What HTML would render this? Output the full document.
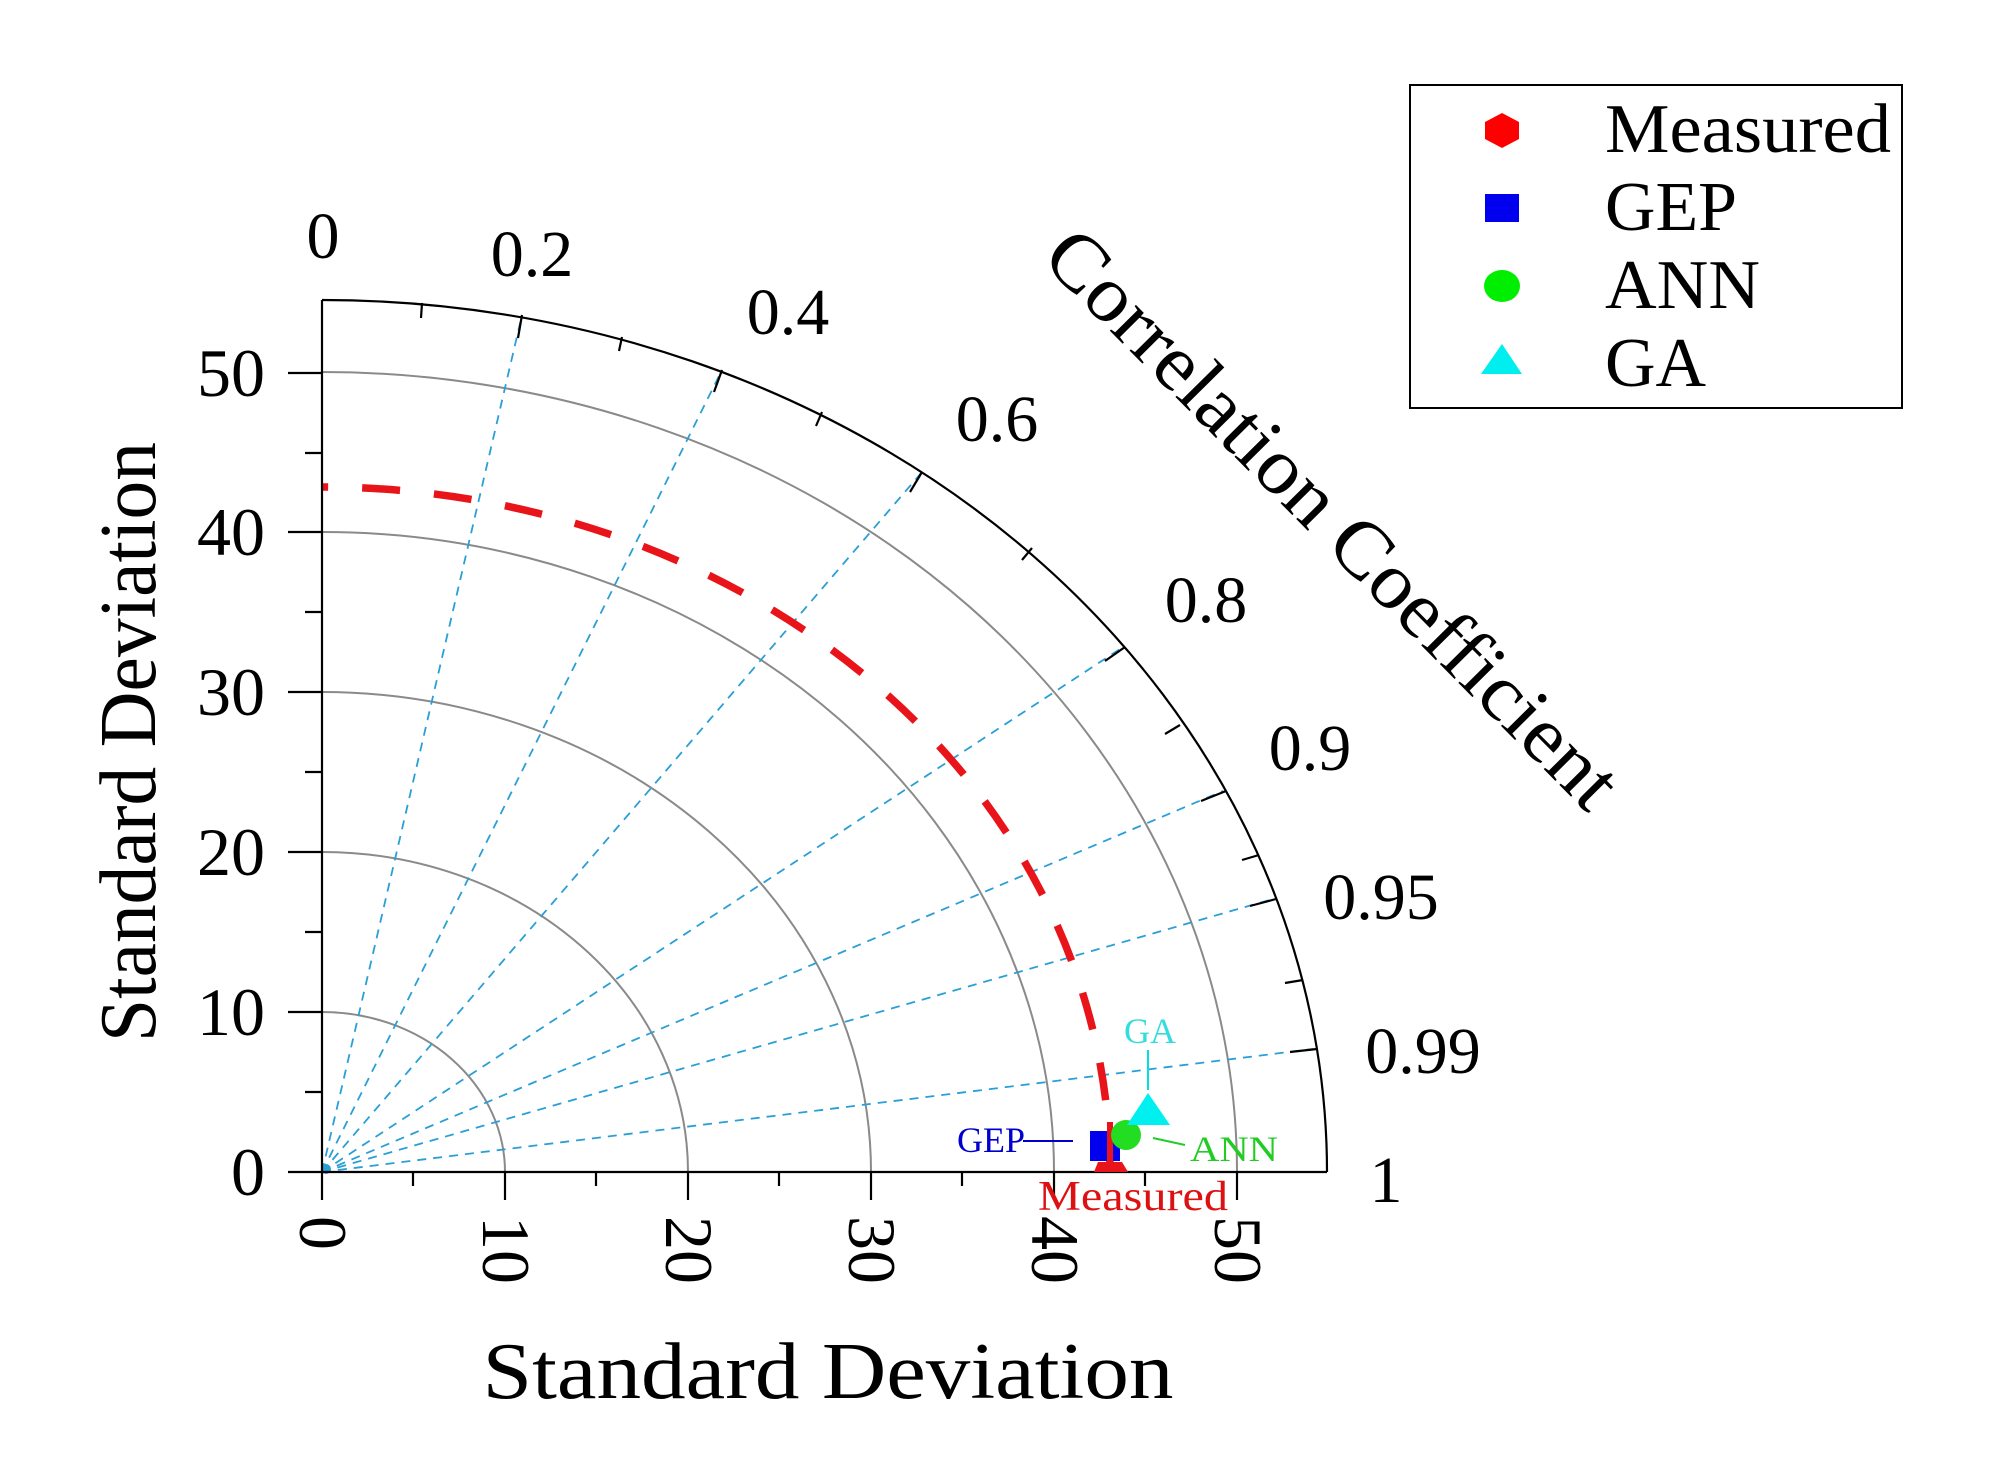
<!DOCTYPE html>
<html><head><meta charset="utf-8"><style>
html,body{margin:0;padding:0;background:#fff;}
svg{display:block;}
text{font-family:"Liberation Serif",serif;}
</style></head><body>
<svg width="2008" height="1483" viewBox="0 0 2008 1483" xmlns="http://www.w3.org/2000/svg">
<g fill="none" stroke="#8a8a8a" stroke-width="2">
<path d="M505,1172 A183 160 0 0 0 322,1012"/>
<path d="M688,1172 A366 320 0 0 0 322,852"/>
<path d="M871,1172 A549 480 0 0 0 322,692"/>
<path d="M1054,1172 A732 640 0 0 0 322,532"/>
<path d="M1237,1172 A915 800 0 0 0 322,372"/>
</g>
<g stroke="#2a9fd6" stroke-width="1.8" stroke-dasharray="9,7" fill="none">
<line x1="322" y1="1172" x2="522" y2="315"/>
<line x1="322" y1="1172" x2="722" y2="370"/>
<line x1="322" y1="1172" x2="922" y2="472"/>
<line x1="322" y1="1172" x2="1123" y2="647"/>
<line x1="322" y1="1172" x2="1223" y2="791"/>
<line x1="322" y1="1172" x2="1273" y2="899"/>
<line x1="322" y1="1172" x2="1313" y2="1049"/>
</g>
<circle cx="326" cy="1169" r="5" fill="#2a9fd6"/>
<path d="M1110,1172 A788 685 0 0 0 322,487" fill="none" stroke="#e8141a" stroke-width="7.5" stroke-dasharray="38,34"/>
<g stroke="#000" stroke-width="2.2" fill="none">
<path d="M1327,1172 A1005 872 0 0 0 322,300"/>
<line x1="322" y1="300" x2="322" y2="1200"/>
<line x1="288" y1="1172" x2="1327" y2="1172"/>
<line x1="288" y1="1012" x2="322" y2="1012"/><line x1="288" y1="852" x2="322" y2="852"/>
<line x1="288" y1="692" x2="322" y2="692"/><line x1="288" y1="532" x2="322" y2="532"/>
<line x1="288" y1="373" x2="322" y2="373"/>
<line x1="305" y1="1092" x2="322" y2="1092"/><line x1="305" y1="932" x2="322" y2="932"/>
<line x1="305" y1="772" x2="322" y2="772"/><line x1="305" y1="612" x2="322" y2="612"/>
<line x1="305" y1="453" x2="322" y2="453"/>
<line x1="505" y1="1172" x2="505" y2="1200"/><line x1="688" y1="1172" x2="688" y2="1200"/>
<line x1="871" y1="1172" x2="871" y2="1200"/><line x1="1054" y1="1172" x2="1054" y2="1200"/>
<line x1="1237" y1="1172" x2="1237" y2="1200"/>
<line x1="413" y1="1172" x2="413" y2="1186"/><line x1="596" y1="1172" x2="596" y2="1186"/>
<line x1="779" y1="1172" x2="779" y2="1186"/><line x1="962" y1="1172" x2="962" y2="1186"/>
<line x1="1145" y1="1172" x2="1145" y2="1186"/>
<line x1="522" y1="315" x2="518" y2="338"/>
<line x1="722" y1="370" x2="714" y2="392"/>
<line x1="922" y1="472" x2="910" y2="492"/>
<line x1="1125" y1="647" x2="1105" y2="661"/>
<line x1="1226" y1="791" x2="1201" y2="801"/>
<line x1="1276" y1="899" x2="1250" y2="906"/>
<line x1="1317" y1="1049" x2="1290" y2="1052"/>
<line x1="422" y1="303" x2="421" y2="318"/>
<line x1="622" y1="337" x2="619" y2="351"/>
<line x1="822" y1="412" x2="816" y2="426"/>
<line x1="1032" y1="548" x2="1022" y2="560"/>
<line x1="1180" y1="725" x2="1165" y2="734"/>
<line x1="1259" y1="855" x2="1242" y2="860"/>
<line x1="1303" y1="980" x2="1285" y2="983"/>
</g>
<g font-size="68" text-anchor="end" fill="#000">
<text x="265" y="1195">0</text><text x="265" y="1035">10</text><text x="265" y="875">20</text>
<text x="265" y="715">30</text><text x="265" y="555">40</text><text x="265" y="396">50</text>
</g>
<g font-size="68" fill="#000">
<text transform="translate(300,1216) rotate(90)">0</text>
<text transform="translate(483,1216) rotate(90)">10</text>
<text transform="translate(666,1216) rotate(90)">20</text>
<text transform="translate(849,1216) rotate(90)">30</text>
<text transform="translate(1032,1216) rotate(90)">40</text>
<text transform="translate(1215,1216) rotate(90)">50</text>
</g>
<g font-size="66" text-anchor="middle" fill="#000">
<text x="323" y="258">0</text><text x="532" y="276">0.2</text><text x="788" y="334">0.4</text>
<text x="997" y="441">0.6</text><text x="1206" y="622">0.8</text><text x="1310" y="770">0.9</text>
<text x="1381" y="919">0.95</text><text x="1423" y="1073">0.99</text><text x="1386" y="1202">1</text>
</g>
<text x="828" y="1398" font-size="80" text-anchor="middle" textLength="691" lengthAdjust="spacingAndGlyphs">Standard Deviation</text>
<text transform="translate(155,742) rotate(-90)" font-size="80" text-anchor="middle" textLength="600" lengthAdjust="spacingAndGlyphs">Standard Deviation</text>
<text transform="translate(1314,537) rotate(45.3)" font-size="80" text-anchor="middle" textLength="780" lengthAdjust="spacingAndGlyphs">Correlation Coefficient</text>
<rect x="1090" y="1131" width="30" height="30" fill="#0000ee"/>
<line x1="1110" y1="1122" x2="1110" y2="1165" stroke="#e8141a" stroke-width="6"/>
<path d="M1094,1172 L1098,1162 L1122,1162 L1128,1172 Z" fill="#e8141a"/>
<circle cx="1126" cy="1135" r="15" fill="#22dd22"/>
<path d="M1148,1093 L1170,1125 L1127,1125 Z" fill="#00f0f0"/>
<line x1="1148" y1="1050" x2="1148" y2="1090" stroke="#00e0e0" stroke-width="2"/>
<text x="1150" y="1043" font-size="36" fill="#33dddd" text-anchor="middle">GA</text>
<line x1="1023" y1="1141" x2="1073" y2="1141" stroke="#0000cc" stroke-width="2"/>
<text x="1025" y="1152" font-size="36" fill="#0000cc" text-anchor="end">GEP</text>
<line x1="1153" y1="1138" x2="1185" y2="1145" stroke="#22cc22" stroke-width="2"/>
<text x="1190" y="1161" font-size="36" fill="#22cc22" textLength="88" lengthAdjust="spacingAndGlyphs">ANN</text>
<text x="1133" y="1210" font-size="42" fill="#dd1111" text-anchor="middle" textLength="190" lengthAdjust="spacingAndGlyphs">Measured</text>
<rect x="1410" y="85" width="492" height="323" fill="#fff" stroke="#000" stroke-width="2"/>
<path d="M1502,113 L1519,122 L1519,139 L1502,148 L1485,139 L1485,122 Z" fill="#ff0000"/>
<rect x="1485" y="194" width="34" height="28" fill="#0000ee"/>
<ellipse cx="1502" cy="286" rx="18" ry="16" fill="#00ee00"/>
<path d="M1502,344 L1522,374 L1481,374 Z" fill="#00eeee"/>
<g font-size="70" fill="#000">
<text x="1605" y="152" textLength="286" lengthAdjust="spacingAndGlyphs">Measured</text>
<text x="1605" y="230" textLength="132" lengthAdjust="spacingAndGlyphs">GEP</text>
<text x="1605" y="308" textLength="155" lengthAdjust="spacingAndGlyphs">ANN</text>
<text x="1605" y="386">GA</text>
</g>
</svg>
</body></html>
